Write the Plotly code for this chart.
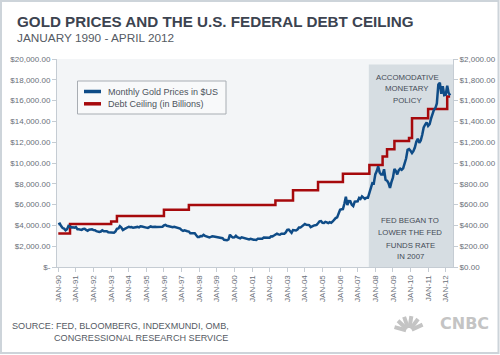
import math
import plotly.graph_objects as go

# ---------------- DATA ----------------
years = list(range(1990, 2013))
gold_1990 = [410.1, 416.8, 393.1, 374.3, 369.1, 352.3, 362.5, 394.8, 389.3, 380.8, 381.1, 378.2]
gold_1991 = [383.6, 363.3, 363.5, 358.4, 356.8, 366.7, 367.7, 356.2, 348.7, 358.7, 360.0, 361.7]
gold_1992 = [354.5, 353.9, 344.3, 338.6, 337.2, 340.8, 353.1, 342.9, 345.4, 344.4, 335.0, 334.8]
gold_1993 = [329.0, 329.3, 329.7, 342.2, 367.2, 371.3, 392.0, 378.6, 355.3, 364.2, 373.8, 383.3]
gold_1994 = [386.9, 382.0, 384.0, 377.3, 381.4, 385.6, 385.5, 380.4, 391.6, 389.8, 384.4, 379.3]
gold_1995 = [378.6, 376.5, 382.1, 391.0, 385.2, 387.6, 386.2, 383.7, 383.1, 383.1, 385.5, 387.5]
gold_1996 = [399.5, 404.8, 396.2, 392.9, 391.9, 385.3, 383.5, 387.5, 383.1, 381.1, 377.9, 369.3]
gold_1997 = [355.0, 346.6, 351.8, 344.5, 343.8, 340.8, 324.1, 324.0, 322.8, 324.9, 306.0, 288.7]
gold_1998 = [289.1, 297.5, 295.9, 308.4, 299.1, 292.3, 292.9, 284.1, 289.0, 296.0, 294.1, 291.6]
gold_1999 = [287.3, 287.3, 286.0, 282.6, 276.4, 261.3, 256.1, 256.7, 264.7, 310.7, 293.2, 283.1]
gold_2000 = [284.6, 299.9, 286.4, 280.0, 275.3, 285.7, 281.6, 274.5, 273.7, 270.0, 266.0, 271.5]
gold_2001 = [265.5, 261.9, 263.0, 260.5, 272.4, 270.2, 267.5, 272.4, 283.4, 283.1, 276.2, 275.9]
gold_2002 = [281.5, 295.5, 294.0, 302.7, 314.5, 321.2, 313.3, 310.3, 319.2, 316.6, 319.1, 332.6]
gold_2003 = [356.9, 359.0, 340.6, 328.2, 355.7, 356.4, 351.0, 359.8, 378.9, 378.9, 389.9, 407.6]
gold_2004 = [414.0, 405.3, 406.7, 403.0, 383.4, 392.0, 398.1, 400.5, 405.3, 420.5, 439.4, 442.1]
gold_2005 = [424.0, 423.4, 434.2, 428.9, 421.9, 430.7, 424.5, 437.9, 456.0, 469.9, 476.7, 509.8]
gold_2006 = [549.9, 555.0, 557.1, 610.6, 676.5, 596.2, 633.8, 632.6, 598.2, 585.8, 627.8, 629.8]
gold_2007 = [631.2, 664.8, 654.9, 679.4, 666.9, 655.5, 665.3, 665.4, 712.7, 754.6, 806.3, 803.2]
gold_2008 = [889.6, 922.3, 968.4, 909.7, 888.7, 889.5, 939.8, 839.0, 829.9, 806.6, 760.9, 816.1]
gold_2009 = [858.7, 943.2, 924.3, 890.2, 928.6, 945.7, 934.2, 949.4, 996.6, 1043.2, 1127.0, 1134.7]
gold_2010 = [1117.9, 1095.4, 1113.3, 1148.7, 1205.4, 1232.9, 1192.9, 1215.8, 1270.8, 1342.0, 1369.9, 1390.6]
gold_2011 = [1356.4, 1372.7, 1424.0, 1473.8, 1510.4, 1528.7, 1572.8, 1755.8, 1771.9, 1665.2, 1738.9, 1652.3]
gold_2012 = [1656.1, 1742.1, 1673.8, 1649.2]

gold_by_year = [gold_1990, gold_1991, gold_1992, gold_1993, gold_1994, gold_1995,
                gold_1996, gold_1997, gold_1998, gold_1999, gold_2000, gold_2001,
                gold_2002, gold_2003, gold_2004, gold_2005, gold_2006, gold_2007,
                gold_2008, gold_2009, gold_2010, gold_2011, gold_2012]

# Debt ceiling (billions of $) - dates at which the ceiling changed
debt_dates = ["1990-01-01", "1990-09-01", "1993-01-01", "1993-05-01", "1996-01-01",
              "1997-06-01", "2002-05-01", "2003-05-01", "2004-10-01", "2006-03-01",
              "2007-09-01", "2008-06-01", "2008-09-01", "2009-02-01", "2009-12-01",
              "2010-02-01", "2011-01-01", "2012-02-01", "2012-04-01"]
debt_values = [3230, 4145, 4370, 4900, 5500, 5950, 6400, 7384, 8184, 8965,
               9815, 10615, 11315, 12104, 12394, 14294, 15194, 16394, 16394]

series_names = ["Monthly Gold Prices in $US", "Debt Ceiling (in Billions)"]
series_colors = ["#0F4C87", "#A6090C"]

left_tick_vals = [0, 2000, 4000, 6000, 8000, 10000, 12000, 14000, 16000, 18000, 20000]
left_tick_text = ["$-", "$2,000.00", "$4,000.00", "$6,000.00", "$8,000.00", "$10,000.00",
                  "$12,000.00", "$14,000.00", "$16,000.00", "$18,000.00", "$20,000.00"]
right_tick_vals = [0, 200, 400, 600, 800, 1000, 1200, 1400, 1600, 1800, 2000]
right_tick_text = ["$0.00", "$200.00", "$400.00", "$600.00", "$800.00", "$1,000.00",
                   "$1,200.00", "$1,400.00", "$1,600.00", "$1,800.00", "$2,000.00"]
x_tick_vals = [f"{y}-01-01" for y in years]
x_tick_text = [f"JAN-{str(y)[2:]}" for y in years]

shade_start = "2007-08-20"
x_range = ["1989-12-05", "2012-05-31"]

# ---------------- BUILD ----------------
gold_dates = []
gold_values = []
for y, vals in zip(years, gold_by_year):
    for m, v in enumerate(vals, start=1):
        gold_dates.append(f"{y}-{m:02d}-01")
        gold_values.append(v)

W, H = 500, 355
L, R, T, B = 57, 47, 59, 88
PW, PH = W - L - R, H - T - B


def px(xp):
    return (xp - L) / PW


def py(yp):
    return (H - B - yp) / PH


FONT = "Liberation Sans, Arial, sans-serif"
TICK = "#6a7079"
AXIS = "#C5CCD3"

fig = go.Figure()
fig.add_trace(go.Scatter(
    x=gold_dates, y=gold_values, name=series_names[0], showlegend=False,
    mode="lines", line=dict(color=series_colors[0], width=2.5), yaxis="y2"))
fig.add_trace(go.Scatter(
    x=debt_dates, y=debt_values, name=series_names[1], showlegend=False,
    mode="lines", line=dict(color=series_colors[1], width=2.5, shape="hv"), yaxis="y"))

axis_common = dict(ticks="outside", ticklen=4, tickcolor=AXIS, showgrid=False,
                   zeroline=False, showline=True, linecolor=AXIS, linewidth=1,
                   automargin=False)

fig.update_layout(
    template="none",
    width=W, height=H,
    margin=dict(l=L, r=R, t=T, b=B, pad=0),
    paper_bgcolor="white", plot_bgcolor="#F3F5F7",
    font=dict(family=FONT, color=TICK, size=8),
    showlegend=False,
    xaxis=dict(type="date", range=x_range,
               tickvals=x_tick_vals, ticktext=x_tick_text, tickangle=-90,
               tickfont=dict(size=8, color=TICK, family=FONT), **axis_common),
    yaxis=dict(range=[0, 20000], tickvals=left_tick_vals, ticktext=left_tick_text,
               tickfont=dict(size=8, color=TICK, family=FONT), **axis_common),
    yaxis2=dict(range=[0, 2000], tickvals=right_tick_vals, ticktext=right_tick_text,
                overlaying="y", side="right",
                tickfont=dict(size=8, color=TICK, family=FONT), **axis_common),
)

shapes = [
    # shaded "accommodative policy" period
    dict(type="rect", xref="x", yref="paper", x0=shade_start, x1=x_range[1],
         y0=0, y1=py(64.5), fillcolor="#D6DDE2", line=dict(width=0), layer="below"),
    # outer frame
    dict(type="rect", xref="paper", yref="paper", x0=px(1), x1=px(498.5),
         y0=py(353), y1=py(1), line=dict(color="#CDD4DA", width=2)),
    # legend box
    dict(type="rect", xref="paper", yref="paper", x0=px(77.5), x1=px(226),
         y0=py(114), y1=py(81), fillcolor="#F8F9FA",
         line=dict(color="#A8ADB3", width=1)),
]
legend_rows = [91.5, 103.8]
for yy, col in zip(legend_rows, series_colors):
    shapes.append(dict(type="line", xref="paper", yref="paper", x0=px(84), x1=px(101),
                       y0=py(yy), y1=py(yy), line=dict(color=col, width=3.5)))

# simplified peacock mark of the logo
cx, cy = 409, 331
for ang in [165, 137, 109, 81, 53, 25]:
    a = math.radians(ang)
    shapes.append(dict(type="line", xref="paper", yref="paper",
                       x0=px(cx + 3 * math.cos(a)), y0=py(cy - 3 * math.sin(a)),
                       x1=px(cx + 15 * math.cos(a)), y1=py(cy - 15 * math.sin(a)),
                       line=dict(color="#C4C4C4", width=4)))
fig.update_layout(shapes=shapes)

ann = [
    dict(text="<b>GOLD PRICES AND THE U.S. FEDERAL DEBT CEILING</b>",
         x=px(14.5), y=py(21), xanchor="left", yanchor="middle",
         font=dict(family=FONT, size=15.2, color="#3C4350")),
    dict(text="JANUARY 1990 - APRIL 2012",
         x=px(14.5), y=py(38), xanchor="left", yanchor="middle",
         font=dict(family=FONT, size=11.8, color="#555B64")),
    dict(text="SOURCE: FED, BLOOMBERG, INDEXMUNDI, OMB,",
         x=px(10), y=py(325.7), xanchor="left", yanchor="middle",
         font=dict(family=FONT, size=9.1, color="#555B64")),
    dict(text="CONGRESSIONAL RESEARCH SERVICE",
         x=px(51.5), y=py(338.3), xanchor="left", yanchor="middle",
         font=dict(family=FONT, size=9.1, color="#555B64")),
    dict(text="<b>CNBC</b>",
         x=px(491), y=py(323.5), xanchor="right", yanchor="middle",
         font=dict(family="DejaVu Sans, sans-serif", size=16, color="#C4C4C4")),
]
for name, yy in zip(series_names, legend_rows):
    ann.append(dict(text=name, x=px(106), y=py(yy), xanchor="left", yanchor="middle",
                    font=dict(family=FONT, size=9, color="#4d535c")))
for line, yy in zip(["ACCOMODATIVE", "MONETARY", "POLICY"], [77.3, 88.5, 100]):
    ann.append(dict(text=line, x=px(407), y=py(yy), xanchor="center", yanchor="middle",
                    font=dict(family=FONT, size=7.8, color="#444B56")))
for line, yy in zip(["FED BEGAN TO", "LOWER THE FED", "FUNDS RATE", "IN 2007"],
                    [220.3, 232.7, 245, 256.8]):
    ann.append(dict(text=line, x=px(410), y=py(yy), xanchor="center", yanchor="middle",
                    font=dict(family=FONT, size=7.8, color="#444B56")))
for a in ann:
    a.update(xref="paper", yref="paper", showarrow=False)
fig.update_layout(annotations=ann)

fig.write_html(
    "out.html",
    config={"displayModeBar": False},
    post_script="document.body.style.margin='0px';document.body.style.overflow='hidden';",
)
